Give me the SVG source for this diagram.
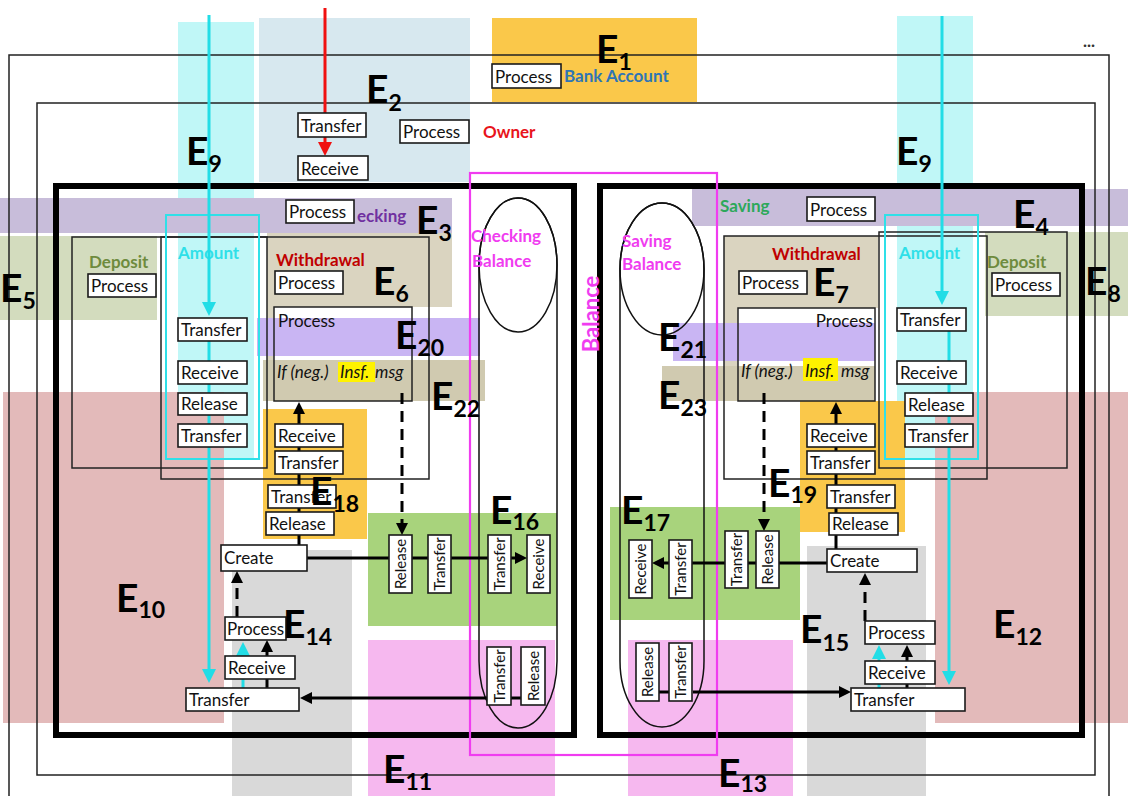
<svg xmlns="http://www.w3.org/2000/svg" width="1128" height="796" viewBox="0 0 1128 796">
<style>
.box{fill:#fff;stroke:#1a1a1a;stroke-width:1.6}
.t{font-family:Lato,'Liberation Sans',sans-serif;font-size:17px;fill:#111}
.vt{font-family:Lato,'Liberation Sans',sans-serif;font-size:15px;fill:#111;text-anchor:middle}
.h{font-family:Lato,'Liberation Sans',sans-serif;font-size:17px;font-weight:bold}
.hb{font-family:Lato,'Liberation Sans',sans-serif;font-size:22px;font-weight:bold;text-anchor:middle}
.it{font-style:italic}
.E{font-family:Lato,'Liberation Sans',sans-serif;font-weight:bold;font-size:39px;fill:#000}
.sub{font-size:23px}
.thin{fill:none;stroke:#222;stroke-width:1.5}
.thick{fill:none;stroke:#000;stroke-width:6}
.cyo{fill:none;stroke:#2FE0E8;stroke-width:2}
.mag{fill:none;stroke:#F03CF0;stroke-width:2.2}
.cap{fill:none;stroke:#111;stroke-width:1.5}
.c{fill:none;stroke:#000;stroke-width:3}
.d{stroke-dasharray:11 7}
.cy{fill:none;stroke:#22DDE6;stroke-width:3}
.rd{fill:none;stroke:#F01010;stroke-width:3}
</style>
<defs>
<marker id="ab" viewBox="0 0 12 12" refX="8" refY="6" markerWidth="12" markerHeight="12" markerUnits="userSpaceOnUse" orient="auto"><path d="M0,0 L12,6 L0,12 z" fill="#000"/></marker>
<marker id="ac" viewBox="0 0 14 14" refX="10" refY="7" markerWidth="14" markerHeight="14" markerUnits="userSpaceOnUse" orient="auto"><path d="M0,0 L14,7 L0,14 z" fill="#22DDE6"/></marker>
<marker id="ar" viewBox="0 0 14 14" refX="10" refY="7" markerWidth="14" markerHeight="14" markerUnits="userSpaceOnUse" orient="auto"><path d="M0,0 L14,7 L0,14 z" fill="#F01010"/></marker>
</defs>

<g id="regions">
<rect x="492" y="18" width="205" height="84" fill="#FAC84A"/>
<rect x="259" y="18" width="211" height="164" fill="#D7E8EF"/>
<rect x="178" y="22" width="76" height="176" fill="#C0F7F7"/>
<rect x="897" y="16" width="76" height="167" fill="#C0F7F7"/>
<rect x="0" y="198" width="452" height="35" fill="#C8BDDA"/>
<rect x="692" y="189" width="436" height="37" fill="#C8BDDA"/>
<rect x="0" y="236" width="157" height="84" fill="#D3DCBE"/>
<rect x="985" y="232" width="143" height="84" fill="#D3DCBE"/>
<rect x="178" y="233" width="76" height="225" fill="#C0F7F7"/>
<rect x="897" y="226" width="76" height="232" fill="#C0F7F7"/>
<rect x="267" y="233" width="185" height="74" fill="#DAD4C0"/>
<rect x="267" y="307" width="7" height="53" fill="#DAD4C0"/>
<rect x="724" y="236" width="154" height="72" fill="#DAD4C0"/>
<rect x="724" y="308" width="14" height="58" fill="#DAD4C0"/>
<rect x="257" y="318" width="223" height="38" fill="#C9B5F3"/>
<rect x="673" y="323" width="202" height="38" fill="#C9B5F3"/>
<rect x="263" y="360" width="222" height="41" fill="#D0CAB0"/>
<rect x="662" y="366" width="213" height="35" fill="#D0CAB0"/>
<rect x="3" y="392" width="221" height="331" fill="#E3BABA"/>
<rect x="935" y="392" width="193" height="331" fill="#E3BABA"/>
<rect x="263" y="409" width="104" height="130" fill="#FAC84A"/>
<rect x="800" y="401" width="105" height="131" fill="#FAC84A"/>
<rect x="368" y="513" width="189" height="113" fill="#A8D37C"/>
<rect x="610" y="507" width="190" height="113" fill="#A8D37C"/>
<rect x="368" y="640" width="187" height="156" fill="#F6B8EF"/>
<rect x="628" y="640" width="165" height="156" fill="#F6B8EF"/>
<rect x="232" y="550" width="120" height="246" fill="#D9D9D9"/>
<rect x="807" y="546" width="119" height="250" fill="#D9D9D9"/>
</g>

<g id="outlines">
<path class="thin" d="M9 796 V55 H1109 V796"/>
<rect class="thin" x="37" y="103" width="1058" height="672"/>
<rect class="thick" x="56" y="186" width="518" height="549"/>
<rect class="thick" x="600" y="186" width="482" height="549"/>
<rect class="thin" x="72" y="237" width="195" height="231"/>
<rect class="thin" x="161" y="237" width="268" height="242"/>
<rect class="thin" x="274" y="307" width="138" height="94"/>
<rect class="cyo" x="166" y="215" width="93" height="244"/>
<rect class="thin" x="879" y="232" width="188" height="236"/>
<rect class="thin" x="724" y="236" width="263" height="243"/>
<rect class="thin" x="738" y="308" width="137" height="93"/>
<rect class="cyo" x="885" y="215" width="93" height="244"/>
<rect class="mag" x="470" y="173" width="247" height="582"/>
<rect class="cap" x="479" y="198" width="78" height="530" rx="39" ry="67"/>
<ellipse class="cap" cx="518" cy="265" rx="39" ry="67"/>
<rect class="cap" x="620" y="203" width="84" height="524" rx="42" ry="66"/>
<ellipse class="cap" cx="662" cy="269" rx="42" ry="66"/>
</g>

<g id="headings">
<text class="h" x="483" y="138" fill="#E8141B">Owner</text>
<text class="h" x="564" y="82" fill="#2E75B6">Bank Account</text>
<text class="h" x="357" y="222" fill="#7030A0">ecking</text>
<text class="h" x="720" y="212" fill="#2DA85A">Saving</text>
<text class="h" x="89" y="268" fill="#6E8B3D">Deposit</text>
<text class="h" x="987" y="268" fill="#6E8B3D">Deposit</text>
<text class="h" x="178" y="259" fill="#2FE0E8">Amount</text>
<text class="h" x="899" y="259" fill="#2FE0E8">Amount</text>
<text class="h" x="276" y="266" fill="#C00000">Withdrawal</text>
<text class="h" x="772" y="260" fill="#C00000">Withdrawal</text>
<text class="h" x="471" y="242" fill="#F03CF0">Checking</text>
<text class="h" x="472" y="267" fill="#F03CF0">Balance</text>
<text class="h" x="622" y="247" fill="#F03CF0">Saving</text>
<text class="h" x="622" y="270" fill="#F03CF0">Balance</text>
<text class="hb" x="591" y="322" fill="#F03CF0" transform="rotate(-90 591 314)">Balance</text>
<text class="h" x="1083" y="47" fill="#333">...</text>
</g>

<g id="connectors">
<path class="cy" d="M209 15 V312" marker-end="url(#ac)"/>
<path class="cy" d="M209 339 V679" marker-end="url(#ac)"/>
<path class="cy" d="M942 16 V301" marker-end="url(#ac)"/>
<path class="cy" d="M949 331 V681" marker-end="url(#ac)"/>
<path class="cy" d="M243 688 V646" marker-end="url(#ac)"/>
<path class="cy" d="M879 690 V649" marker-end="url(#ac)"/>
<path class="rd" d="M325 8 V152" marker-end="url(#ar)"/>
<path class="c" d="M299 545 V406" marker-end="url(#ab)"/>
<path class="c" d="M307 558 H523" marker-end="url(#ab)"/>
<path class="c" d="M267 688 V644" marker-end="url(#ab)"/>
<path class="c" d="M487 698 H304" marker-end="url(#ab)"/>
<path class="c" d="M511 698 H521"/>
<path class="c" d="M836 549 V406" marker-end="url(#ab)"/>
<path class="c" d="M827 563 H656" marker-end="url(#ab)"/>
<path class="c" d="M907 688 V649" marker-end="url(#ab)"/>
<path class="c" d="M693 692 H847" marker-end="url(#ab)"/>
<path class="c" d="M659 692 H669"/>
<path class="c d" d="M402 393 V531" marker-end="url(#ab)"/>
<path class="c d" d="M237 617 V575" marker-end="url(#ab)"/>
<path class="c d" d="M764 393 V527" marker-end="url(#ab)"/>
<path class="c d" d="M865 621 V577" marker-end="url(#ab)"/>
</g>

<g id="n-owner-transfer"><rect class="box" x="298" y="113" width="68" height="24"/><text class="t" x="301" y="132">Transfer</text></g>
<g id="n-owner-receive"><rect class="box" x="298" y="156" width="70" height="24"/><text class="t" x="301" y="175">Receive</text></g>
<g id="n-owner-process"><rect class="box" x="400" y="120" width="69" height="23"/><text class="t" x="403" y="138">Process</text></g>
<g id="n-bank-process"><rect class="box" x="492" y="64" width="69" height="24"/><text class="t" x="495" y="83">Process</text></g>
<g id="n-checking-process"><rect class="box" x="286" y="200" width="68" height="23"/><text class="t" x="289" y="218">Process</text></g>
<g id="n-saving-process"><rect class="box" x="807" y="197" width="68" height="24"/><text class="t" x="810" y="216">Process</text></g>

<g id="n-ldeposit-process"><rect class="box" x="88" y="274" width="68" height="23"/><text class="t" x="91" y="292">Process</text></g>
<g id="n-lamount-transfer1"><rect class="box" x="178" y="318" width="69" height="23"/><text class="t" x="181" y="336">Transfer</text></g>
<g id="n-lamount-receive"><rect class="box" x="178" y="361" width="69" height="23"/><text class="t" x="181" y="379">Receive</text></g>
<g id="n-lamount-release"><rect class="box" x="178" y="393" width="69" height="22"/><text class="t" x="181" y="410">Release</text></g>
<g id="n-lamount-transfer2"><rect class="box" x="178" y="424" width="69" height="23"/><text class="t" x="181" y="442">Transfer</text></g>
<g id="n-lwithdrawal-process"><rect class="box" x="275" y="271" width="68" height="23"/><text class="t" x="278" y="289">Process</text></g>
<g id="n-lif">
<text class="t" x="278" y="327">Process</text>
<rect x="338" y="362" width="37" height="20" fill="#FFF200"/>
<text class="t it" x="277" y="378">If (neg.)</text>
<text class="t it" x="340" y="378">Insf.</text>
<text class="t it" x="375" y="378">msg</text>
</g>
<g id="n-l18-receive"><rect class="box" x="275" y="424" width="68" height="23"/><text class="t" x="278" y="442">Receive</text></g>
<g id="n-l18-transfer1"><rect class="box" x="275" y="451" width="68" height="23"/><text class="t" x="278" y="469">Transfer</text></g>
<g id="n-l18-transfer2"><rect class="box" x="268" y="485" width="68" height="23"/><text class="t" x="271" y="503">Transfer</text></g>
<g id="n-l18-release"><rect class="box" x="266" y="512" width="68" height="23"/><text class="t" x="269" y="530">Release</text></g>
<g id="n-l-create"><rect class="box" x="221" y="545" width="86" height="26"/><text class="t" x="224" y="564">Create</text></g>
<g id="n-l14-process"><rect class="box" x="225" y="617" width="61" height="23"/><text class="t" x="227" y="635">Process</text></g>
<g id="n-l14-receive"><rect class="box" x="225" y="656" width="70" height="23"/><text class="t" x="228" y="674">Receive</text></g>
<g id="n-l14-transfer"><rect class="box" x="186" y="688" width="113" height="23"/><text class="t" x="189" y="706">Transfer</text></g>

<g id="n-l16-release"><rect class="box" x="389" y="535" width="23" height="58"/><text class="vt" x="400.5" y="569.5" transform="rotate(-90 400.5 564)">Release</text></g>
<g id="n-l16-transfer1"><rect class="box" x="428" y="535" width="23" height="58"/><text class="vt" x="439.5" y="569.5" transform="rotate(-90 439.5 564)">Transfer</text></g>
<g id="n-l16-transfer2"><rect class="box" x="488" y="535" width="23" height="58"/><text class="vt" x="499.5" y="569.5" transform="rotate(-90 499.5 564)">Transfer</text></g>
<g id="n-l16-receive"><rect class="box" x="527" y="535" width="23" height="58"/><text class="vt" x="538.5" y="569.5" transform="rotate(-90 538.5 564)">Receive</text></g>
<g id="n-lcap-transfer"><rect class="box" x="487" y="647" width="24" height="58"/><text class="vt" x="499" y="681.5" transform="rotate(-90 499 676)">Transfer</text></g>
<g id="n-lcap-release"><rect class="box" x="521" y="647" width="24" height="58"/><text class="vt" x="533" y="681.5" transform="rotate(-90 533 676)">Release</text></g>

<g id="n-r17-receive"><rect class="box" x="629" y="540" width="23" height="58"/><text class="vt" x="640.5" y="574.5" transform="rotate(-90 640.5 569)">Receive</text></g>
<g id="n-r17-transfer1"><rect class="box" x="669" y="540" width="23" height="58"/><text class="vt" x="680.5" y="574.5" transform="rotate(-90 680.5 569)">Transfer</text></g>
<g id="n-r17-transfer2"><rect class="box" x="725" y="531" width="23" height="57"/><text class="vt" x="736.5" y="565" transform="rotate(-90 736.5 559.5)">Transfer</text></g>
<g id="n-r17-release"><rect class="box" x="756" y="531" width="23" height="57"/><text class="vt" x="767.5" y="565" transform="rotate(-90 767.5 559.5)">Release</text></g>
<g id="n-rcap-release"><rect class="box" x="636" y="643" width="23" height="58"/><text class="vt" x="647.5" y="677.5" transform="rotate(-90 647.5 672)">Release</text></g>
<g id="n-rcap-transfer"><rect class="box" x="669" y="643" width="23" height="58"/><text class="vt" x="680.5" y="677.5" transform="rotate(-90 680.5 672)">Transfer</text></g>

<g id="n-rwithdrawal-process"><rect class="box" x="739" y="271" width="68" height="23"/><text class="t" x="742" y="289">Process</text></g>
<g id="n-rif">
<text class="t" x="873" y="327" text-anchor="end">Process</text>
<rect x="803" y="358" width="35" height="23" fill="#FFF200"/>
<text class="t it" x="741" y="377">If (neg.)</text>
<text class="t it" x="805" y="377">Insf.</text>
<text class="t it" x="841" y="377">msg</text>
</g>
<g id="n-ramount-transfer1"><rect class="box" x="897" y="308" width="69" height="23"/><text class="t" x="900" y="326">Transfer</text></g>
<g id="n-ramount-receive"><rect class="box" x="897" y="361" width="69" height="23"/><text class="t" x="900" y="379">Receive</text></g>
<g id="n-ramount-release"><rect class="box" x="905" y="393" width="68" height="23"/><text class="t" x="908" y="411">Release</text></g>
<g id="n-ramount-transfer2"><rect class="box" x="905" y="424" width="68" height="23"/><text class="t" x="908" y="442">Transfer</text></g>
<g id="n-rdeposit-process"><rect class="box" x="992" y="273" width="68" height="23"/><text class="t" x="995" y="291">Process</text></g>
<g id="n-r19-receive"><rect class="box" x="807" y="424" width="68" height="23"/><text class="t" x="810" y="442">Receive</text></g>
<g id="n-r19-transfer1"><rect class="box" x="807" y="451" width="68" height="23"/><text class="t" x="810" y="469">Transfer</text></g>
<g id="n-r19-transfer2"><rect class="box" x="827" y="485" width="68" height="23"/><text class="t" x="830" y="503">Transfer</text></g>
<g id="n-r19-release"><rect class="box" x="829" y="513" width="69" height="22"/><text class="t" x="832" y="530">Release</text></g>
<g id="n-r-create"><rect class="box" x="827" y="549" width="90" height="23"/><text class="t" x="830" y="567">Create</text></g>
<g id="n-r15-process"><rect class="box" x="865" y="621" width="70" height="23"/><text class="t" x="868" y="639">Process</text></g>
<g id="n-r15-receive"><rect class="box" x="865" y="661" width="70" height="23"/><text class="t" x="868" y="679">Receive</text></g>
<g id="n-r15-transfer"><rect class="box" x="851" y="688" width="114" height="23"/><text class="t" x="854" y="706">Transfer</text></g>

<g id="labels">
<text class="E" x="596" y="63">E<tspan class="sub" dy="7">1</tspan></text>
<text class="E" x="366" y="103">E<tspan class="sub" dy="8">2</tspan></text>
<text class="E" x="186" y="165">E<tspan class="sub" dy="7">9</tspan></text>
<text class="E" x="896" y="165">E<tspan class="sub" dy="7">9</tspan></text>
<text class="E" x="416" y="234">E<tspan class="sub" dy="7">3</tspan></text>
<text class="E" x="1013" y="228">E<tspan class="sub" dy="7">4</tspan></text>
<text class="E" x="0" y="302">E<tspan class="sub" dy="7">5</tspan></text>
<text class="E" x="373" y="295">E<tspan class="sub" dy="7">6</tspan></text>
<text class="E" x="813" y="296">E<tspan class="sub" dy="7">7</tspan></text>
<text class="E" x="1085" y="295">E<tspan class="sub" dy="7">8</tspan></text>
<text class="E" x="395" y="349">E<tspan class="sub" dy="7">20</tspan></text>
<text class="E" x="658" y="351">E<tspan class="sub" dy="7">21</tspan></text>
<text class="E" x="431" y="410">E<tspan class="sub" dy="7">22</tspan></text>
<text class="E" x="658" y="409">E<tspan class="sub" dy="7">23</tspan></text>
<text class="E" x="310" y="505">E<tspan class="sub" dy="7">18</tspan></text>
<text class="E" x="768" y="497">E<tspan class="sub" dy="6">19</tspan></text>
<text class="E" x="490" y="524">E<tspan class="sub" dy="6">16</tspan></text>
<text class="E" x="621" y="524">E<tspan class="sub" dy="7">17</tspan></text>
<text class="E" x="116" y="612">E<tspan class="sub" dy="6">10</tspan></text>
<text class="E" x="283" y="638">E<tspan class="sub" dy="7">14</tspan></text>
<text class="E" x="800" y="643">E<tspan class="sub" dy="8">15</tspan></text>
<text class="E" x="993" y="638">E<tspan class="sub" dy="7">12</tspan></text>
<text class="E" x="383" y="783">E<tspan class="sub" dy="7">11</tspan></text>
<text class="E" x="718" y="787">E<tspan class="sub" dy="5">13</tspan></text>
</g>
</svg>
